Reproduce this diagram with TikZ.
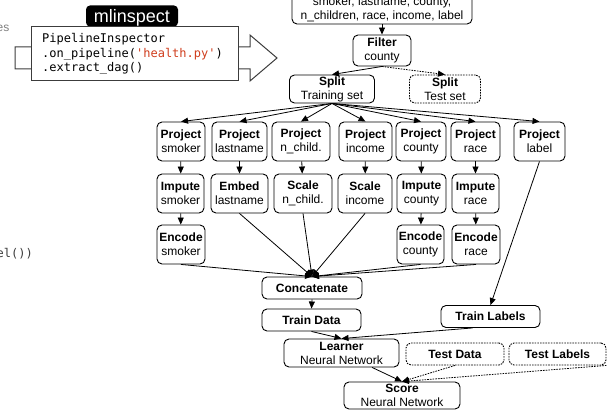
\documentclass[tikz,border=0pt]{standalone}
\usepackage{fontspec}
\setmainfont{Liberation Sans}
\setmonofont{DejaVu Sans Mono}
\usetikzlibrary{arrows.meta,calc}
\definecolor{codered}{RGB}{208,62,30}
\definecolor{panelgray}{RGB}{60,60,60}
\begin{document}
\begin{tikzpicture}[x=1pt,y=-1pt,
  box/.style={draw, line width=0.9pt, rounded corners=5pt, inner sep=0pt, align=center, font=\fontsize{12}{14}\selectfont},
  dbox/.style={box, dash pattern=on 1.6pt off 1.1pt},
  edge/.style={line width=0.8pt, -{Triangle[length=7pt,width=6pt]}},
  dedge/.style={edge, dash pattern=on 1.6pt off 1.1pt},
  code/.style={anchor=base west, inner sep=0pt, font=\ttfamily\fontsize{12}{14.5}\selectfont}]
\useasboundingbox (0,0) rectangle (607,411);
\clip (0,0) rectangle (607,411);

% clipped fragments at the left edge
\node[anchor=base east, inner sep=0pt, text=gray, font=\fontsize{12}{14}\selectfont] (fragA) at (9.5,32) {es};
\node[anchor=base east, inner sep=0pt, text=panelgray, font=\ttfamily\fontsize{12}{14}\selectfont] (fragB) at (33,258) {el())};

% mlinspect panel
\draw[fill=white, draw=panelgray, line width=1pt] (15,47) -- (250,47) -- (250,35) -- (277,58) -- (250,81) -- (250,69) -- (15,69) -- cycle;
\node[fill=black, rounded corners=4pt, minimum width=92pt, minimum height=21pt, inner sep=0pt] (mli) at (132,16) {};
\node[anchor=base, inner sep=0pt, text=white, font=\fontsize{18}{18}\selectfont] (mlit) at (132,22.5) {mlinspect};
\node[draw=panelgray, line width=1pt, fill=white, minimum width=207pt, minimum height=54pt, inner sep=0pt, anchor=north west] (codebox) at (31,26) {};
\node[code] (c1) at (42,43) {PipelineInspector};
\node[code] (c2) at (42,57.5) {.on\_pipeline(\textcolor{codered}{'health.py'})};
\node[code] (c3) at (42,72) {.extract\_dag()};

% DAG nodes
\node[box, minimum width=180pt, minimum height=30pt] (src) at (382,9) {smoker, lastname, county,\\n\_children, race, income, label};
\node[box, minimum width=58pt, minimum height=31pt] (filter) at (382,50.5) {\textbf{Filter}\\county};
\node[box, minimum width=85pt, minimum height=28pt] (splittr) at (332,89) {\textbf{Split}\\Training set};
\node[dbox, minimum width=71pt, minimum height=28pt] (splitte) at (445,89) {\textbf{Split}\\Test set};

\node[box, minimum width=48pt, minimum height=39pt] (ps) at (181,141.5) {\textbf{Project}\\smoker};
\node[box, minimum width=55pt, minimum height=39pt] (pl) at (239.5,141.5) {\textbf{Project}\\lastname};
\node[box, minimum width=58pt, minimum height=39pt] (pn) at (301,141.5) {\textbf{Project}\\n\_child.};
\node[box, minimum width=53pt, minimum height=39pt] (pi) at (365.5,141.5) {\textbf{Project}\\income};
\node[box, minimum width=50pt, minimum height=39pt] (pc) at (421,141.5) {\textbf{Project}\\county};
\node[box, minimum width=49pt, minimum height=39pt] (pr) at (475.5,141.5) {\textbf{Project}\\race};
\node[box, minimum width=51pt, minimum height=39pt] (plb) at (539.5,141.5) {\textbf{Project}\\label};

\node[box, minimum width=47pt, minimum height=39pt] (is) at (180.5,193.5) {\textbf{Impute}\\smoker};
\node[box, minimum width=57pt, minimum height=39pt] (el) at (239.5,193.5) {\textbf{Embed}\\lastname};
\node[box, minimum width=58pt, minimum height=39pt] (sn) at (303,193.5) {\textbf{Scale}\\n\_child.};
\node[box, minimum width=54pt, minimum height=39pt] (si) at (365,193.5) {\textbf{Scale}\\income};
\node[box, minimum width=49pt, minimum height=39pt] (ic) at (421.5,193.5) {\textbf{Impute}\\county};
\node[box, minimum width=47pt, minimum height=39pt] (ir) at (475.5,193.5) {\textbf{Impute}\\race};

\node[box, minimum width=48pt, minimum height=39pt] (es) at (181,244.5) {\textbf{Encode}\\smoker};
\node[box, minimum width=47pt, minimum height=39pt] (ec) at (420.5,244.5) {\textbf{Encode}\\county};
\node[box, minimum width=48pt, minimum height=39pt] (er) at (476,244.5) {\textbf{Encode}\\race};

\node[box, minimum width=100pt, minimum height=22pt] (concat) at (312,288) {\textbf{Concatenate}};
\node[box, minimum width=99pt, minimum height=22pt] (trdata) at (311.5,320) {\textbf{Train Data}};
\node[box, minimum width=99pt, minimum height=22pt] (trlab) at (490.5,316.5) {\textbf{Train Labels}};
\node[box, minimum width=115pt, minimum height=28pt] (learner) at (341.5,353) {\textbf{Learner}\\Neural Network};
\node[dbox, minimum width=98pt, minimum height=22pt] (tedata) at (455,354) {\textbf{Test Data}};
\node[dbox, minimum width=97pt, minimum height=22pt] (telab) at (557.5,354) {\textbf{Test Labels}};
\node[box, minimum width=116pt, minimum height=27pt] (score) at (402,395.5) {\textbf{Score}\\Neural Network};

% edges
\draw[edge] (src.south) -- (filter.north);
\draw[edge] (filter.south) -- (splittr.north);
\draw[dedge] (filter.south) -- (splitte.north);
\foreach \t in {ps,pl,pn,pi,pc,pr,plb} \draw[edge] (splittr.south) -- (\t.north);
\draw[edge] (ps) -- (is);
\draw[edge] (is) -- (es);
\draw[edge] (pl) -- (el);
\draw[edge] (pn) -- (sn);
\draw[edge] (pi) -- (si);
\draw[edge] (pc) -- (ic);
\draw[edge] (ic) -- (ec);
\draw[edge] (pr) -- (ir);
\draw[edge] (ir) -- (er);
\foreach \s in {es,el,sn,si,ec,er} \draw[edge] (\s.south) -- (concat.north);
\draw[edge] (plb.south) -- (trlab.north);
\draw[edge] (concat.south) -- (trdata.north);
\draw[edge] (trdata.south) -- (learner.north);
\draw[edge] ($(trlab.south)+(-18,0)$) -- (learner.north);
\draw[edge] (learner) -- (score.north);
\draw[dedge] (tedata.south) -- (score.north);
\draw[dedge] (telab.south east) -- (score.north);
\end{tikzpicture}
\end{document}
